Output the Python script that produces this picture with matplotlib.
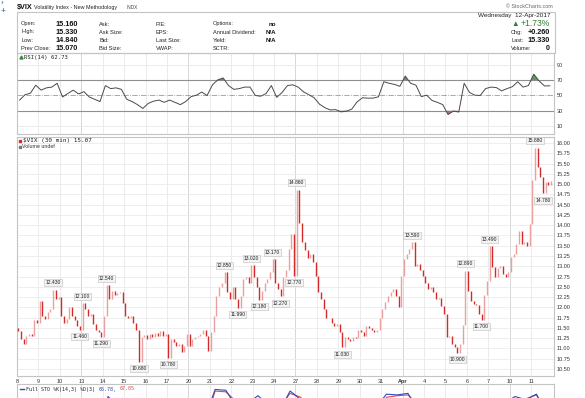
import matplotlib
matplotlib.use("Agg")
import numpy as np
import matplotlib.pyplot as plt
from matplotlib.patches import Rectangle
from matplotlib.lines import Line2D

plt.rcParams['font.family'] = ['Liberation Sans', 'DejaVu Sans']

W, H = 585, 398

# trading days shown (Mar 8 .. Apr 11), ticks sit on the start of each day
day_labels = ['8', '9', '10', '13', '14', '15', '16', '17', '20', '21', '22', '23', '24',
              '27', '28', '29', '30', '31', 'Apr', '4', '5', '6', '7', '10', '11']
monday_idx = [3, 8, 13, 18, 23]
bars_per_day = 8

# 30 min closes (8 per day)
first_open = 11.50
closes = [
    11.42, 11.22, 11.12, 11.30, 11.34, 11.30, 11.70, 11.62,  # Mar 8
    12.15, 11.78, 11.72, 11.88, 11.95, 12.43, 12.20, 12.25,  # Mar 9
    11.78, 11.63, 11.72, 12.00, 11.80, 11.70, 11.54, 11.46,  # Mar 10
    12.10, 11.95, 11.78, 11.85, 11.60, 11.46, 11.39, 11.29,  # Mar 13
    11.78, 12.54, 12.20, 12.40, 12.30, 12.35, 12.38, 12.10,  # Mar 14
    11.78, 11.75, 11.80, 11.62, 11.46, 10.68, 11.29, 11.32,  # Mar 15
    11.22, 11.34, 11.28, 11.38, 11.30, 11.42, 11.30, 11.36,  # Mar 16
    10.78, 11.22, 11.15, 11.05, 11.10, 10.92, 11.05, 11.35,  # Mar 17
    11.05, 11.22, 11.27, 11.30, 11.34, 11.46, 11.30, 10.95,  # Mar 20
    11.40, 11.78, 12.27, 12.50, 12.60, 12.85, 12.37, 12.20,  # Mar 21
    12.50, 12.20, 11.99, 12.27, 12.68, 12.75, 12.60, 13.02,  # Mar 22
    12.75, 12.50, 12.18, 12.40, 12.60, 12.70, 12.85, 13.17,  # Mar 23
    12.60, 12.45, 12.27, 12.75, 12.90, 13.41, 13.78, 12.77,  # Mar 24
    14.86, 14.05, 13.60, 13.40, 13.20, 13.30, 13.10, 12.76,  # Mar 27
    12.37, 12.20, 11.95, 11.75, 11.73, 11.63, 11.54, 11.60,  # Mar 28
    11.39, 11.03, 11.27, 11.22, 11.19, 11.29, 11.25, 11.46,  # Mar 29
    11.39, 11.30, 11.54, 11.50, 11.46, 11.39, 11.45, 11.75,  # Mar 30
    11.95, 12.12, 12.27, 12.37, 12.44, 12.27, 12.00, 12.76,  # Mar 31
    13.17, 13.30, 13.41, 13.59, 13.00, 13.05, 12.90, 12.76,  # Apr 3
    12.60, 12.44, 12.50, 12.37, 12.20, 12.22, 12.03, 11.83,  # Apr 4
    11.27, 11.30, 11.10, 11.03, 10.90, 11.10, 11.58, 12.89,  # Apr 5
    12.40, 12.15, 12.07, 12.05, 11.83, 11.70, 12.30, 12.63,  # Apr 6
    13.49, 12.98, 12.73, 12.95, 13.00, 12.80, 12.73, 12.85,  # Apr 7
    13.22, 13.30, 13.54, 13.85, 13.54, 13.60, 13.50, 14.02,  # Apr 10
    15.10, 15.88, 15.42, 15.17, 14.78, 15.05, 14.98, 15.07,  # Apr 11
]

# high / low callouts: bar index and whether the box sits above the bar
label_bars = [13, 24, 23, 31, 33, 45, 56, 77, 82, 87, 90, 95, 98, 103, 104,
              121, 147, 164, 167, 173, 176, 193, 196]
label_up = [True, True, False, False, True, False, False, True, False, True, False, True,
            False, False, True, False, True, False, True, False, True, True, False]

# RSI(14), 4 readings per day
rsi = [
    44, 51, 53, 63.5,  57, 60, 61, 66,  48, 52.6, 57, 52,  55, 48, 45, 42,
    63, 59, 60, 58,  45, 42, 38, 33,  39.6, 42.5, 44, 41,  44, 41, 38, 42,
    48.5, 50.4, 54.5, 50,  64, 70.5, 73, 63,  58, 59, 61, 61,  50, 49, 52.5, 63,
    47.5, 54, 63, 64,  61, 54.8, 51, 47,  38.5, 34, 31, 31.5,  28.5, 29.5, 32, 41.5,
    47, 46.5, 46.5, 48.3,  68, 66, 64.5, 62,  75.5, 66, 63.5, 48.5,  50.4, 43.5, 41, 38,
    25, 29.6, 28.3, 66,  54, 50.4, 50, 59,  61, 60.4, 56, 59,  61.5, 68, 61, 63,
    78, 69, 62.5, 62.7,
]

# Full STO %K / %D, 2 readings per day (only the tops show)
sto_k = [40, 55, 70, 80, 45, 60, 50, 30, 89, 75, 50, 20, 25, 35, 20, 30, 45, 60,
         98, 97, 75, 80, 90, 78, 70, 96, 85, 40, 15, 10, 20, 35, 55, 75, 92, 91,
         93, 70, 40, 25, 15, 30, 70, 50, 60, 80, 89, 85, 92, 66]
sto_d = [45, 50, 62, 72, 60, 58, 48, 40, 70, 72, 55, 35, 28, 30, 27, 28, 38, 52,
         96, 95, 82, 80, 84, 80, 75, 93, 88, 55, 25, 12, 18, 28, 45, 65, 88, 90,
         91, 78, 50, 32, 20, 25, 55, 55, 60, 72, 86, 86, 91, 67]

price_ticks = np.arange(10.5, 16.01, 0.25)

dark_red = '#d42a2a'
light_red = '#eda0a0'
grid_c = '#ebebeb'
mon_c = '#d6d6d6'
frame_c = '#c4c4c4'

fig = plt.figure(figsize=(W / 100, H / 100), dpi=100)
fig.patch.set_facecolor('white')


def box(l, t, r, b):
    return [l / W, 1 - b / H, (r - l) / W, (b - t) / H]


def ftext(x, y, s, **kw):
    kw.setdefault('va', 'center')
    fig.text(x / W, 1 - y / H, s, **kw)


n_days = len(day_labels)


def panel(rect):
    ax = fig.add_axes(box(*rect))
    ax.set_xlim(0, n_days + 0.07)
    for i in range(n_days):
        ax.axvline(i, color=mon_c if i in monday_idx else grid_c, lw=0.7, zorder=0)
    ax.set_xticks(range(n_days))
    ax.set_xticklabels([])
    ax.yaxis.tick_right()
    ax.tick_params(length=0, labelsize=4, labelcolor='#333333', pad=2)
    for s in ax.spines.values():
        s.set_color(frame_c)
        s.set_linewidth(0.8)
    return ax


# ---- header ----
fig.add_artist(Rectangle((17 / W, 1 - 53 / H), 538 / W, 41 / H, transform=fig.transFigure,
                         fill=False, edgecolor=frame_c, lw=0.8))
ftext(1, 3, '›', fontsize=6, color='#4f86c6', fontweight='bold')
ftext(1, 11, '+', fontsize=6, color='#4f86c6', fontweight='bold')
ftext(17, 7, '$VIX', fontsize=5.2, fontweight='bold', color='#111111')
ftext(34, 7.3, 'Volatility Index - New Methodology', fontsize=3.9, color='#222222')
ftext(127, 7.3, 'INDX', fontsize=3.4, color='#444444')
ftext(553, 6, '© StockCharts.com', fontsize=3.9, color='#666666', ha='right')

rows_y = [24, 32, 40.5, 48.5]
col1 = ['Open:', 'High:', 'Low:', 'Prev Close:']
col1_vals = ['15.160', '15.330', '14.840', '15.070']
col2 = ['Ask:', 'Ask Size:', 'Bid:', 'Bid Size:']
col3 = ['P/E:', 'EPS:', 'Last Size:', 'VWAP:']
col4 = ['Options:', 'Annual Dividend:', 'Yield:', 'SCTR:']
col4_vals = ['no', 'N/A', 'N/A', '']
for i, y in enumerate(rows_y):
    ftext(21, y, col1[i], fontsize=4.1, color='#222222')
    ftext(78, y, col1_vals[i], fontsize=5.2, fontweight='bold', color='#111111', ha='right')
    ftext(99, y, col2[i], fontsize=4.1, color='#222222')
    ftext(156, y, col3[i], fontsize=4.1, color='#222222')
    ftext(213, y, col4[i], fontsize=4.1, color='#222222')
    ftext(276, y, col4_vals[i], fontsize=4.4, fontweight='bold', color='#111111', ha='right')

ftext(550, 15, 'Wednesday  12-Apr-2017', fontsize=4.6, color='#222222', ha='right')
ftext(511, 24, '▲', fontsize=5.5, color='#2f7d32')
ftext(550, 24, '+1.73%', fontsize=6.2, color='#2f7d32', ha='right')
ftext(511, 32.5, 'Chg:', fontsize=4.1, color='#222222')
ftext(550, 32.5, '+0.260', fontsize=5.2, fontweight='bold', color='#111111', ha='right')
ftext(511, 40.7, 'Last:', fontsize=4.1, color='#222222')
ftext(550, 40.7, '15.330', fontsize=5.2, fontweight='bold', color='#111111', ha='right')
ftext(511, 49, 'Volume:', fontsize=4.1, color='#222222')
ftext(550, 49, '0', fontsize=5.0, fontweight='bold', color='#111111', ha='right')

# ---- RSI panel ----
ax_rsi = panel((17, 53, 554, 134))
ax_rsi.set_ylim(-0.5, 105.7)
ax_rsi.set_yticks([10, 30, 50, 70, 90])
for lv in [10, 90]:
    ax_rsi.axhline(lv, color=grid_c, lw=0.7, zorder=0)
ax_rsi.axhline(70, color='#8f8f8f', lw=0.8, zorder=1)
ax_rsi.axhline(30, color='#8f8f8f', lw=0.8, zorder=1)
ax_rsi.axhline(50, color='#9a9a9a', lw=0.6, ls='-.', zorder=1)
rx = np.arange(len(rsi)) / 4 + 0.125
r = np.array(rsi)
ax_rsi.fill_between(rx, r, 70, where=r > 70, interpolate=True, color='#5e9a5e', lw=0, zorder=2)
ax_rsi.fill_between(rx, r, 30, where=r < 30, interpolate=True, color='#a0707a', lw=0, zorder=2)
ax_rsi.plot(rx, r, color='#4a4a4a', lw=0.7, zorder=3)
fig.add_artist(Line2D([21 / W], [1 - 57 / H], marker='^', ms=2.2, color='#3c8a3c',
                      transform=fig.transFigure))
ftext(24, 57, 'RSI(14) 62.73', fontsize=4.1, family=['DejaVu Sans Mono'], color='#222222')

# ---- price panel ----
ax = panel((17, 137, 554, 376))
ax.set_ylim(10.33, 16.146)
ax.set_yticks(price_ticks)
ax.set_yticklabels([f'{v:.2f}' for v in price_ticks])
for v in price_ticks:
    ax.axhline(v, color=grid_c, lw=0.6, zorder=0)
ax.set_xticklabels(day_labels)
for lab in ax.get_xticklabels():
    if lab.get_text() == 'Apr':
        lab.set_fontweight('bold')

c = np.array(closes)
xs = np.arange(len(c)) / bars_per_day + 0.5 / bars_per_day
opens = np.r_[first_open, c[:-1]]
lo = np.minimum(opens, c)
hi = np.maximum(opens, c)
cols = np.where(c < opens, dark_red, light_red)
ax.vlines(xs, lo, hi, colors=cols, lw=1.0, zorder=3)

for i, up in zip(label_bars, label_up):
    v = closes[i]
    ax.annotate(f'{v:.3f}', (xs[i], v), xytext=(0, 5 if up else -5), textcoords='offset points',
                ha='center', va='center', fontsize=3.6, color='#222222', zorder=5,
                bbox=dict(boxstyle='square,pad=0.2', fc='#f3f3f3', ec='#bdbdbd', lw=0.4))

fig.add_artist(Line2D([19.5 / W], [1 - 141 / H], marker='s', ms=1.8, color=dark_red,
                      transform=fig.transFigure))
ftext(23, 141, '$VIX (30 min) 15.07', fontsize=4.3, family=['DejaVu Sans Mono'], color='#222222')
fig.add_artist(Line2D([19.5 / W], [1 - 147 / H], marker='s', ms=1.6, color='#777777',
                      transform=fig.transFigure))
ftext(22, 147, 'Volume undef', fontsize=3.8, color='#333333')

# ---- Full STO panel (cut off by the image edge) ----
ax_sto = panel((17, 384, 554, 470))
ax_sto.set_ylim(-5, 105)
ax_sto.set_yticks([])
sx = np.arange(len(sto_k)) / 2 + 0.25
ax_sto.plot(sx, sto_d, color='#e04848', lw=0.8)
ax_sto.plot(sx, sto_k, color='#3048c0', lw=0.8)
cw = 0.602 * 3.6 * 100 / 72
fig.add_artist(Line2D([20 / W, 24 / W], [1 - 389 / H, 1 - 389 / H], color='#3048c0', lw=1,
                      transform=fig.transFigure))
ftext(26, 389, 'Full STO %K(14,3) %D(3) ', fontsize=3.6, family=['DejaVu Sans Mono'],
      color='#222222')
ftext(26 + 24 * cw, 389, '65.78,', fontsize=3.6, family=['DejaVu Sans Mono'], color='#3048c0')
ftext(26 + 31 * cw, 389, '67.05', fontsize=3.6, family=['DejaVu Sans Mono'], color='#e04848')

fig.savefig('out.png', dpi=100, facecolor='white')
